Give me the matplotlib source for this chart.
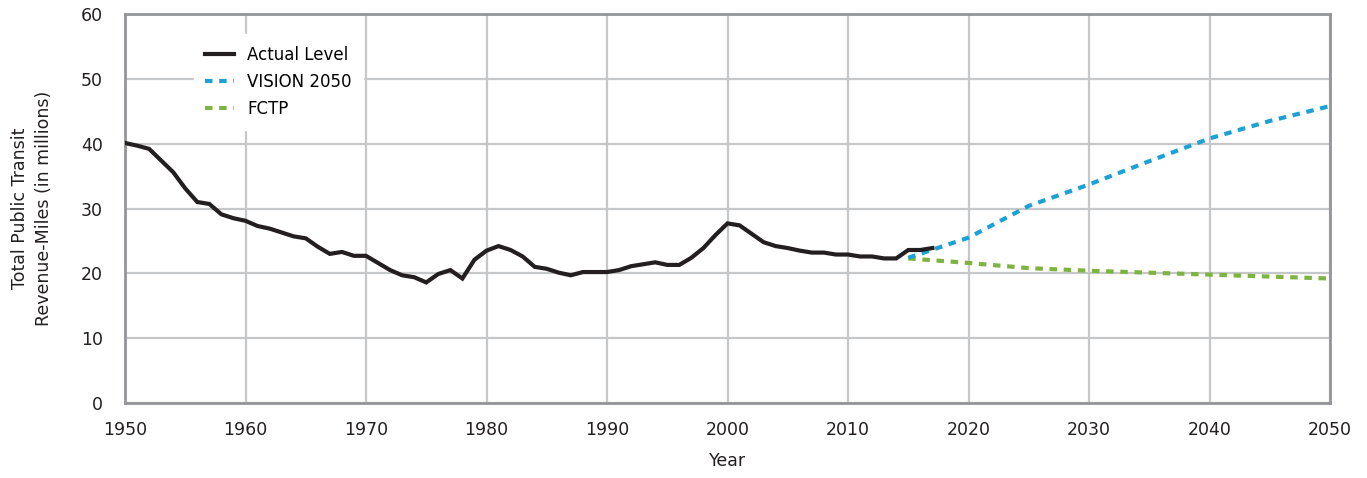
import matplotlib
matplotlib.use("Agg")
import matplotlib.pyplot as plt
from matplotlib.lines import Line2D

# ---- data ----
actual_years = list(range(1950, 2018))
actual_values = [40.1, 39.7, 39.2, 37.4, 35.6, 33.1, 31.0, 30.7, 29.1, 28.5,
                 28.1, 27.3, 26.9, 26.3, 25.7, 25.4, 24.1, 23.0, 23.3, 22.7,
                 22.7, 21.6, 20.5, 19.7, 19.4, 18.6, 19.9, 20.5, 19.2, 22.1,
                 23.5, 24.2, 23.6, 22.6, 21.0, 20.7, 20.1, 19.7, 20.2, 20.2,
                 20.2, 20.5, 21.1, 21.4, 21.7, 21.3, 21.3, 22.4, 23.9, 25.9,
                 27.7, 27.4, 26.1, 24.8, 24.2, 23.9, 23.5, 23.2, 23.2, 22.9,
                 22.9, 22.6, 22.6, 22.3, 22.3, 23.6, 23.6, 23.9]
proj_years = [2015, 2020, 2025, 2030, 2035, 2040, 2045, 2050]
vision_values = [22.4, 25.5, 30.4, 33.7, 37.3, 40.8, 43.5, 45.8]
fctp_values = [22.3, 21.6, 20.8, 20.4, 20.1, 19.8, 19.5, 19.2]
x_ticks = list(range(1950, 2051, 10))
y_ticks = list(range(0, 61, 10))

plt.rcParams['font.family'] = ['DejaVu Sans']

fig = plt.figure(figsize=(13.67, 4.78), dpi=100)
ax = fig.add_axes([125/1367, 1-403/478, (1330-125)/1367, (403-14)/478])

black = '#231f20'
blue = '#1ba1d6'
green = '#7db43f'
dash = (0, (1.8, 1.6))

ax.plot(proj_years, fctp_values, color=green, lw=3.0, linestyle=dash, zorder=3)
ax.plot(proj_years, vision_values, color=blue, lw=3.0, linestyle=dash, zorder=3)
ax.plot(actual_years, actual_values, color=black, lw=3.0, zorder=4,
        solid_joinstyle='miter')

ax.set_xlim(1950, 2050)
ax.set_ylim(0, 60)
ax.set_xticks(x_ticks)
ax.set_yticks(y_ticks)
ax.grid(True, color='#c6c7c9', lw=1.6)
ax.set_axisbelow(True)
for s in ax.spines.values():
    s.set_color('#939598')
    s.set_linewidth(2.0)
ax.tick_params(length=0, labelsize=12.5, colors='#231f20')
ax.tick_params(axis='x', pad=13)
ax.tick_params(axis='y', pad=16)

ax.set_xlabel('Year', fontsize=12.5, color='#231f20', labelpad=9)
ax.set_ylabel('Total Public Transit\nRevenue-Miles (in millions)', fontsize=12.5,
              color='#231f20', labelpad=20, linespacing=1.45)

handles = [Line2D([], [], color=black, lw=3),
           Line2D([], [], color=blue, lw=3, linestyle=dash),
           Line2D([], [], color=green, lw=3, linestyle=dash)]
leg = ax.legend(handles, ['Actual Level', 'VISION 2050', 'FCTP'],
                loc='upper left', bbox_to_anchor=(0.05, 0.97), frameon=True,
                fontsize=12, handlelength=1.7, handletextpad=0.8,
                labelspacing=0.55, borderpad=0.7, fancybox=False)
leg.get_frame().set_facecolor('white')
leg.get_frame().set_edgecolor('white')
leg.get_frame().set_alpha(1)

fig.savefig('out.png', dpi=100)
